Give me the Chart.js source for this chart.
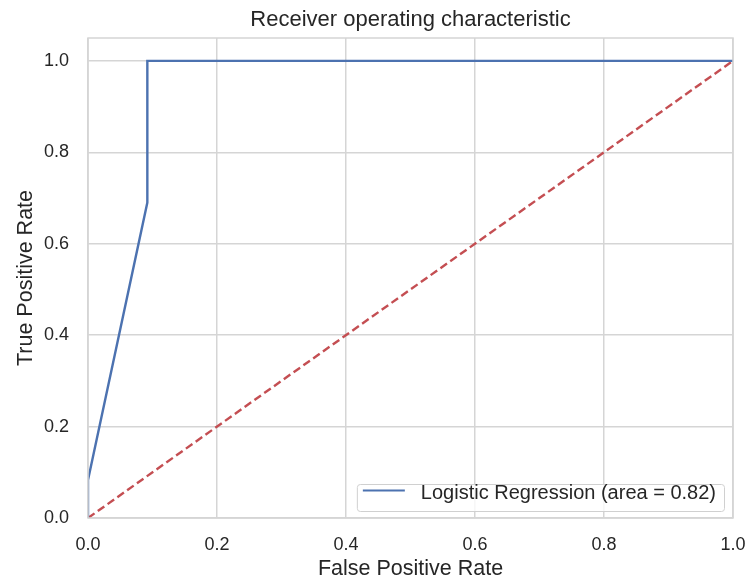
<!DOCTYPE html>
<html>
<head>
<meta charset="utf-8">
<script src="https://cdn.jsdelivr.net/npm/chart.js@4.4.0/dist/chart.umd.min.js"></script>
<style>
  html, body { margin: 0; padding: 0; background: #ffffff; }
  #wrap { width: 750px; height: 580px; }
</style>
</head>
<body>
<div id="wrap"><canvas id="rocChart" width="750" height="580"></canvas></div>
<script>
// ROC curve values
const fpr = [0, 0, 0.092, 0.092, 1.0];
const tpr = [0, 0.083, 0.69, 1.0, 1.0];
const chanceX = [0, 1];
const chanceY = [0, 1];
const xTicks = [0, 0.2, 0.4, 0.6, 0.8, 1.0];
const yTicks = [0, 0.2, 0.4, 0.6, 0.8, 1.0];
const modelLabel = 'Logistic Regression (area = 0.82)';

const FONT = '"Liberation Sans", Arial, sans-serif';
const TEXT = '#262626';
const GRID = '#d5d5d5';

// box round the plot, like the matplotlib spines
const frameBox = {
    id: 'frameBox',
    afterDatasetsDraw(chart) {
        const { ctx, chartArea: a } = chart;
        ctx.save();
        ctx.strokeStyle = GRID;
        ctx.lineWidth = 1.5;
        ctx.strokeRect(a.left, a.top, a.right - a.left, a.bottom - a.top);
        ctx.restore();
    }
};

// legend in the lower right corner of the plot
const cornerLegend = {
    id: 'cornerLegend',
    afterDraw(chart) {
        const { ctx, chartArea: a } = chart;
        const ds = chart.data.datasets[0];
        ctx.save();
        ctx.font = '20px ' + FONT;
        const tw = ctx.measureText(ds.label).width;
        const w = tw + 72, h = 27;
        const x = a.right - 9 - w, y = a.bottom - 7 - h;
        ctx.fillStyle = 'rgba(255,255,255,0.8)';
        ctx.strokeStyle = '#d0d0d0';
        ctx.lineWidth = 1;
        ctx.beginPath();
        ctx.roundRect(x + 0.5, y + 0.5, w, h, 3);
        ctx.fill();
        ctx.stroke();
        ctx.strokeStyle = ds.borderColor;
        ctx.lineWidth = 2.2;
        ctx.beginPath();
        ctx.moveTo(x + 6, y + 6.5);
        ctx.lineTo(x + 48, y + 6.5);
        ctx.stroke();
        ctx.fillStyle = TEXT;
        ctx.textBaseline = 'alphabetic';
        ctx.fillText(ds.label, x + 64, y + 15);
        ctx.restore();
    }
};

const ctx = document.getElementById('rocChart').getContext('2d');

new Chart(ctx, {
    type: 'scatter',
    data: {
        datasets: [{
            label: modelLabel,
            data: fpr.map((v, i) => ({ x: v, y: tpr[i] })),
            showLine: true,
            borderColor: '#4c72b0',
            borderWidth: 2.4,
            pointRadius: 0,
            tension: 0
        }, {
            label: 'chance',
            data: chanceX.map((v, i) => ({ x: v, y: chanceY[i] })),
            showLine: true,
            borderColor: '#c44e52',
            borderWidth: 2.4,
            borderDash: [8, 4],
            pointRadius: 0
        }]
    },
    options: {
        responsive: false,
        animation: false,
        layout: { padding: { right: 17 } },
        plugins: {
            legend: { display: false },
            tooltip: { enabled: false },
            title: {
                display: true,
                fullSize: false,  // centre it over the plot, not the canvas
                text: 'Receiver operating characteristic',
                color: TEXT,
                font: { family: FONT, size: 22, weight: 'normal', lineHeight: 1.2 },
                padding: { top: 7, bottom: 4.6 }
            }
        },
        scales: {
            x: {
                type: 'linear',
                min: 0,
                max: 1,
                afterBuildTicks: s => { s.ticks = xTicks.map(v => ({ value: v })); },
                afterFit: s => { s.height = 62; s.paddingLeft = 0; s.paddingRight = 0; },
                grid: { color: GRID, lineWidth: 1.5, drawTicks: false },
                border: { display: false },
                ticks: {
                    color: TEXT,
                    padding: 16,
                    font: { family: FONT, size: 18 },
                    callback: v => v.toFixed(1)
                },
                title: {
                    display: true,
                    text: 'False Positive Rate',
                    color: TEXT,
                    font: { family: FONT, size: 21.5, lineHeight: 1.0 },
                    padding: { top: 0, bottom: 0 }
                }
            },
            y: {
                type: 'linear',
                min: 0,
                max: 1.05,
                afterBuildTicks: s => { s.ticks = yTicks.map(v => ({ value: v })); },
                afterFit: s => { s.width = 88; s.paddingTop = 0; s.paddingBottom = 0; },
                grid: { color: GRID, lineWidth: 1.5, drawTicks: false },
                border: { display: false },
                ticks: {
                    color: TEXT,
                    padding: 19,
                    font: { family: FONT, size: 18 },
                    callback: v => v.toFixed(1)
                },
                title: {
                    display: true,
                    text: 'True Positive Rate',
                    color: TEXT,
                    font: { family: FONT, size: 21.5, lineHeight: 1.0 },
                    padding: { top: 15, bottom: 0 }
                }
            }
        }
    },
    plugins: [frameBox, cornerLegend]
});
</script>
</body>
</html>
